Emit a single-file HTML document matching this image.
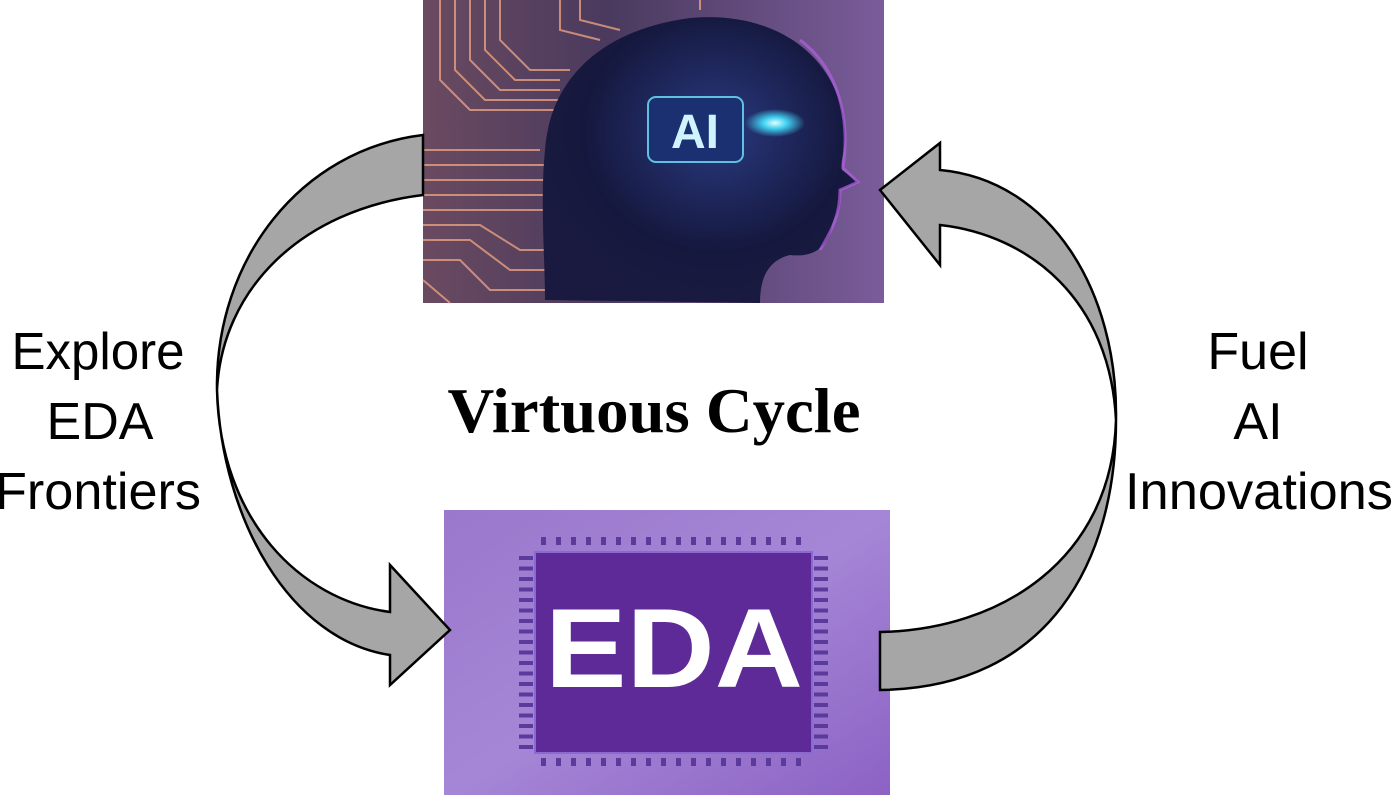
<!DOCTYPE html>
<html><head><meta charset="utf-8"><style>
html,body{margin:0;padding:0;background:#fff;width:1393px;height:795px;overflow:hidden}
svg{display:block}
</style></head><body>
<svg width="1393" height="795" viewBox="0 0 1393 795" xmlns="http://www.w3.org/2000/svg">
<defs>
<linearGradient id="aibg" x1="0" y1="0" x2="1" y2="0">
<stop offset="0" stop-color="#6a4a60"/><stop offset="0.4" stop-color="#4a3a5e"/><stop offset="1" stop-color="#7a5c9a"/>
</linearGradient>
<radialGradient id="head" cx="0.55" cy="0.4" r="0.6">
<stop offset="0" stop-color="#2a3a80"/><stop offset="0.7" stop-color="#15183e"/><stop offset="1" stop-color="#1a1a40"/>
</radialGradient>
<radialGradient id="glow" cx="0.5" cy="0.5" r="0.5">
<stop offset="0" stop-color="#e0ffff"/><stop offset="0.4" stop-color="#40d0f0"/><stop offset="1" stop-color="#40d0f0" stop-opacity="0"/>
</radialGradient>
<linearGradient id="edabg" x1="0" y1="0" x2="1" y2="1">
<stop offset="0" stop-color="#9a78cc"/><stop offset="0.5" stop-color="#a586d6"/><stop offset="1" stop-color="#8c62c4"/>
</linearGradient>
</defs>

<g>
<rect x="423" y="0" width="461" height="303" fill="url(#aibg)"/>
<g stroke="#e8a080" stroke-width="2" fill="none" opacity="0.8">
<path d="M440,0 V80 L470,110 H560"/><path d="M455,0 V70 L485,100 H560"/><path d="M470,0 V60 L500,90 H560"/>
<path d="M485,0 V50 L515,80 H560"/><path d="M500,0 V40 L530,70 H570"/>
<path d="M423,150 H540"/><path d="M423,165 H545"/><path d="M423,180 H550"/><path d="M423,195 H560"/>
<path d="M423,210 H570"/><path d="M423,225 L480,225 L520,250 H580"/><path d="M423,240 L470,240 L510,270 H590"/>
<path d="M423,260 L460,260 L490,290 H600"/><path d="M423,280 L450,303"/>
<path d="M560,0 V30 L600,40"/><path d="M580,0 V20 L620,30"/><path d="M700,0 V10"/>
</g>
<path d="M545,300 C545,260 540,200 545,150 C550,80 600,30 690,18 C780,10 840,60 845,130 C846,150 840,160 842,170 L858,182 L840,190 C842,210 835,215 832,225 C830,245 815,258 790,255 C770,260 760,275 760,303 Z" fill="url(#head)"/>
<path d="M800,40 C840,70 850,120 843,168 L858,182 L840,190 C840,215 832,230 820,250" stroke="#b060e0" stroke-width="3" fill="none" opacity="0.7"/>
<rect x="648" y="97" width="95" height="65" rx="8" fill="#1a3070" stroke="#60c0e0" stroke-width="2"/>
<text x="695" y="148" font-family="Liberation Sans, sans-serif" font-weight="bold" font-size="48" fill="#d0f4ff" text-anchor="middle">AI</text>
<ellipse cx="775" cy="123" rx="30" ry="14" fill="url(#glow)"/>
</g>

<g>
<rect x="444" y="510" width="446" height="285" fill="url(#edabg)"/>
<g stroke="#5a3a9a" fill="none">
<line x1="541" y1="541" x2="805" y2="541" stroke-width="8" stroke-dasharray="5 10"/>
<line x1="541" y1="762" x2="805" y2="762" stroke-width="8" stroke-dasharray="5 10"/>
<line x1="526" y1="556" x2="526" y2="752" stroke-width="14" stroke-dasharray="4 6.5"/>
<line x1="821" y1="556" x2="821" y2="752" stroke-width="14" stroke-dasharray="4 6.5"/>
</g>
<rect x="535" y="552" width="277" height="201" fill="#5e2a98" stroke="#8a6ad0" stroke-width="2"/>
<text x="674" y="687" font-family="Liberation Sans, sans-serif" font-weight="bold" font-size="112" fill="#ffffff" text-anchor="middle" textLength="258" lengthAdjust="spacingAndGlyphs">EDA</text>
</g>

<path d="M423,135 C300,150 215,260 217,390 C220,520 300,600 390,612 L390,565 L450,630 L390,685 L390,655 C290,640 222,520 217,390 C222,290 300,210 423,195 Z" fill="#a6a6a6" stroke="#000" stroke-width="2.5" stroke-linejoin="miter"/>
<path d="M880,632 C1000,630 1112,560 1116,420 C1110,300 1030,235 940,225 L940,265 L880,190 L940,143 L940,170 C1050,180 1118,290 1116,420 C1116,560 1050,688 880,690 Z" fill="#a6a6a6" stroke="#000" stroke-width="2.5" stroke-linejoin="miter"/>

<g font-family="Liberation Sans, sans-serif" font-size="52" fill="#000" text-anchor="middle">
<text x="98" y="369" textLength="173" lengthAdjust="spacingAndGlyphs">Explore</text><text x="100" y="439">EDA</text><text x="98" y="509" textLength="206" lengthAdjust="spacingAndGlyphs">Frontiers</text>
</g>
<g font-family="Liberation Sans, sans-serif" font-size="52" fill="#000" text-anchor="middle">
<text x="1258" y="369">Fuel</text><text x="1258" y="439">AI</text><text x="1259" y="509" textLength="268" lengthAdjust="spacingAndGlyphs">Innovations</text>
</g>
<text x="654" y="432" font-family="Liberation Serif, serif" font-weight="bold" font-size="64" fill="#000" text-anchor="middle" textLength="413" lengthAdjust="spacingAndGlyphs">Virtuous Cycle</text>
</svg>
</body></html>
